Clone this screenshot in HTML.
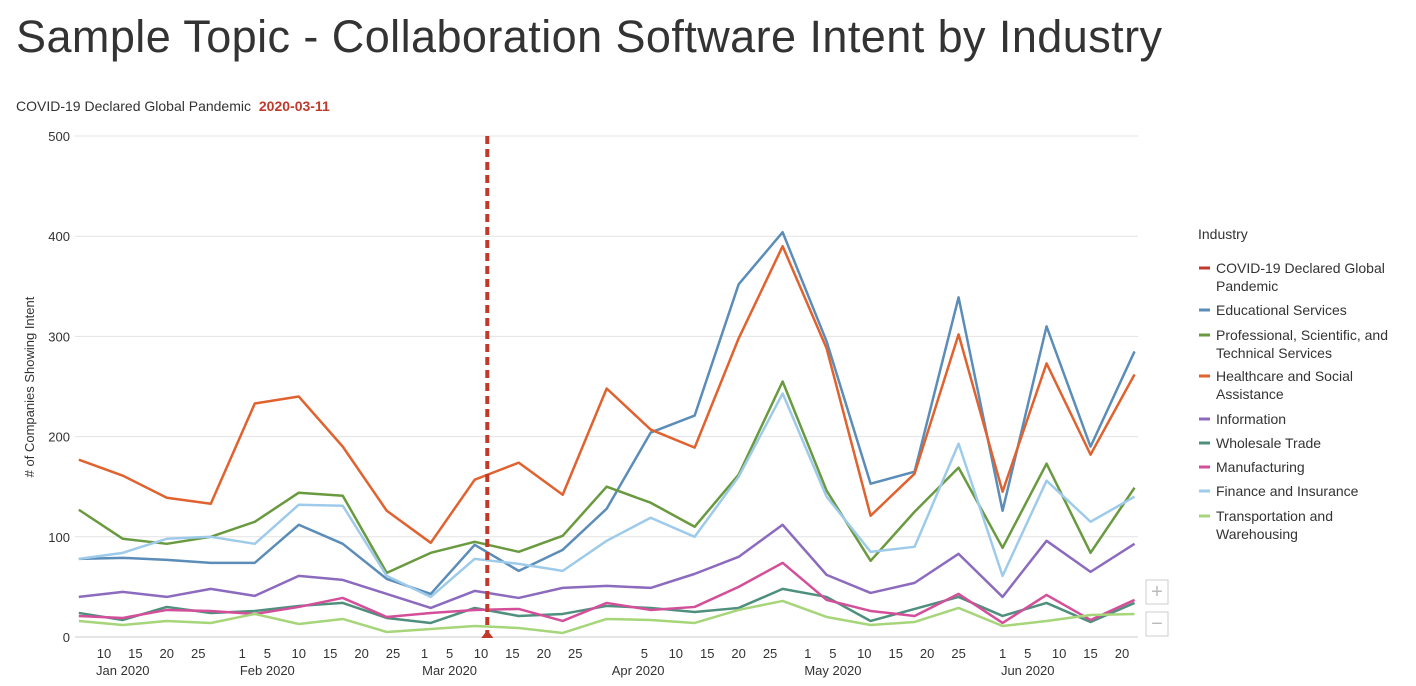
<!DOCTYPE html>
<html><head><meta charset="utf-8"><style>
body{margin:0;background:#fff;font-family:"Liberation Sans",sans-serif;}
#wrap{position:relative;width:1416px;height:686px;overflow:hidden;}
</style></head><body><div id="wrap">
<svg id="svg" width="1416" height="686" xmlns="http://www.w3.org/2000/svg" font-family="Liberation Sans, sans-serif">
<text x="16" y="52" font-size="45" fill="#333" font-weight="300" textLength="1146" lengthAdjust="spacing">Sample Topic - Collaboration Software Intent by Industry</text>
<text x="16" y="111" font-size="14" fill="#333">COVID-19 Declared Global Pandemic <tspan fill="#c0392b" font-weight="bold" dx="4">2020-03-11</tspan></text>
<text transform="translate(34,387) rotate(-90)" text-anchor="middle" font-size="13" fill="#333"># of Companies Showing Intent</text>
<g id="grid"></g><g id="xt"></g><g id="lines"></g><g id="legend"></g>
<g><rect x="1146" y="580" width="22" height="24" fill="#fff" stroke="#ccc"/><text x="1157" y="598" text-anchor="middle" font-size="20" fill="#bbb">+</text></g>
<g><rect x="1146" y="612" width="22" height="24" fill="#fff" stroke="#ccc"/><text x="1157" y="630" text-anchor="middle" font-size="20" fill="#bbb">−</text></g>
</svg></div>
<script>
const yTicks=[0,100,200,300,400,500];
const dayTicks=[[9,"10"],[14,"15"],[19,"20"],[24,"25"],[31,"1"],[35,"5"],[40,"10"],[45,"15"],[50,"20"],[55,"25"],[60,"1"],[64,"5"],[69,"10"],[74,"15"],[79,"20"],[84,"25"],[95,"5"],[100,"10"],[105,"15"],[110,"20"],[115,"25"],[121,"1"],[125,"5"],[130,"10"],[135,"15"],[140,"20"],[145,"25"],[152,"1"],[156,"5"],[161,"10"],[166,"15"],[171,"20"]];
const monthLabels=[[12,"Jan 2020"],[35,"Feb 2020"],[64,"Mar 2020"],[94,"Apr 2020"],[125,"May 2020"],[156,"Jun 2020"]];
const firstDay=5, stepDays=7, pandemicDay=70;
const seriesNames=["Educational Services","Professional, Scientific, and Technical Services","Healthcare and Social Assistance","Information","Wholesale Trade","Manufacturing","Finance and Insurance","Transportation and Warehousing"];
const colors=["#5b8db8","#6a9a3f","#e0622f","#8c6bbf","#4f8f7d","#d44f9a","#9ecbea","#a6d57a"];
const educational=[78,79,77,74,74,112,93,58,43,92,66,87,128,204,221,352,404,295,153,165,339,126,310,190,285];
const professional=[127,98,93,100,115,144,141,64,84,95,85,101,150,134,110,162,255,146,76,125,169,89,173,84,149];
const healthcare=[177,161,139,133,233,240,190,126,94,157,174,142,248,207,189,298,390,288,121,163,302,145,273,182,262];
const information=[40,45,40,48,41,61,57,43,29,46,39,49,51,49,63,80,112,62,44,54,83,40,96,65,93];
const wholesale=[24,17,30,24,26,31,34,19,14,29,21,23,31,29,25,29,48,40,16,28,40,21,34,15,34];
const manufacturing=[21,19,27,26,23,30,39,20,24,27,28,16,34,27,30,50,74,37,26,21,43,14,42,17,37];
const finance=[78,84,98,100,93,132,131,61,40,78,73,66,96,119,100,160,243,140,85,90,193,61,156,115,140];
const transportation=[16,12,16,14,23,13,18,5,8,11,9,4,18,17,14,27,36,20,12,15,29,11,16,22,23];
const allSeries=[educational,professional,healthcare,information,wholesale,manufacturing,finance,transportation];
const NS="http://www.w3.org/2000/svg";
const X=d=>47.4+d*6.284, Y=v=>637-v*1.002;
function mk(t,a,p){const e=document.createElementNS(NS,t);for(const k in a)e.setAttribute(k,a[k]);p.appendChild(e);return e;}
const grid=document.getElementById('grid');
yTicks.forEach(v=>{const l=mk('line',{x1:75,x2:1138,y1:Y(v),y2:Y(v),stroke:v?'#e3e3e3':'#ccc'},grid);


const t=mk('text',{x:70,y:Y(v)+5,'text-anchor':'end','font-size':13,fill:'#333'},grid);t.textContent=v;

});
const xt=document.getElementById('xt');
dayTicks.forEach(([d,s])=>{const t=mk('text',{x:X(d),y:658,'text-anchor':'middle','font-size':13,fill:'#333'},xt);t.textContent=s;

});
monthLabels.forEach(([d,s])=>{const t=mk('text',{x:X(d),y:675,'text-anchor':'middle','font-size':13,fill:'#333'},xt);t.textContent=s;

});
const lg=document.getElementById('lines');
allSeries.forEach((s,i)=>{const p=mk('polyline',{points:s.map((v,j)=>X(firstDay+j*stepDays)+','+Y(v)).join(' '),fill:'none',stroke:colors[i],'stroke-width':2.5,'stroke-linejoin':'round'},lg);

});
const px=X(pandemicDay);
const pl=mk('line',{x1:px,x2:px,y1:136,y2:637,stroke:'#c0392b','stroke-width':4,'stroke-dasharray':'8,5'},lg);


const tri=mk('polygon',{points:`${px-6},638 ${px+6},638 ${px},630`,fill:'#c0392b'},lg);


const leg=document.getElementById('legend');
const lt=mk('text',{x:1198,y:239,'font-size':14,fill:'#333'},leg);lt.textContent='Industry';


const entries=[["#c0392b",["COVID-19 Declared Global","Pandemic"],273],[colors[0],["Educational Services"],315],[colors[1],["Professional, Scientific, and","Technical Services"],340],[colors[2],["Healthcare and Social","Assistance"],381],[colors[3],["Information"],424],[colors[4],["Wholesale Trade"],448],[colors[5],["Manufacturing"],472],[colors[6],["Finance and Insurance"],496],[colors[7],["Transportation and","Warehousing"],521]];
entries.forEach(([c,lines,y])=>{const g=mk('g',{},leg);


mk('line',{x1:1199,x2:1210,y1:y-5,y2:y-5,stroke:c,'stroke-width':3},g);
lines.forEach((s,k)=>{const t=mk('text',{x:1216,y:y+k*18,'font-size':14,fill:'#333'},g);t.textContent=s;});});
</script></body></html>
